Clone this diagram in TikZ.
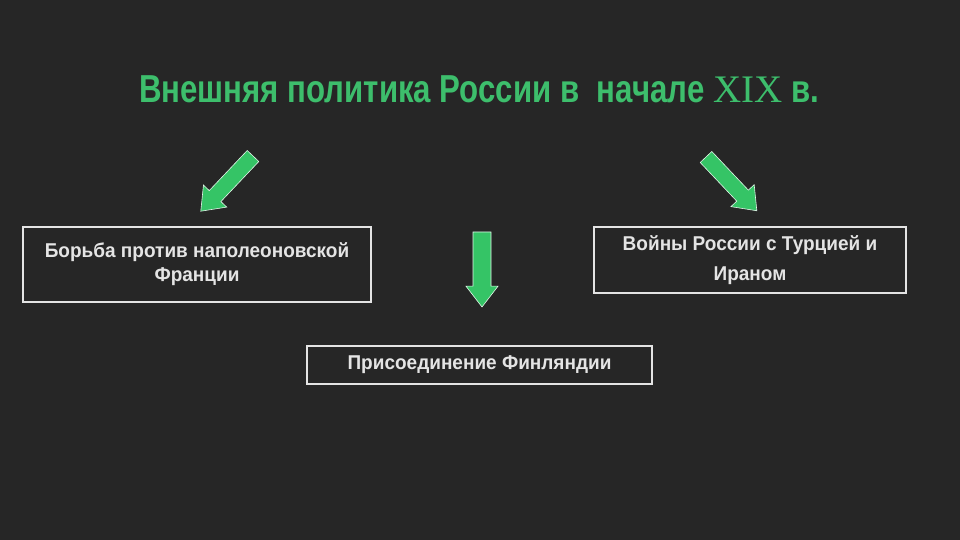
\documentclass[tikz,border=0pt]{standalone}
\usepackage{fontspec}
\newfontfamily\cond[FakeStretch=0.8]{Liberation Sans}
\newfontfamily\boxfont[FakeStretch=0.95]{Liberation Sans}
\newfontfamily\serifx{Liberation Serif}
\definecolor{bg}{HTML}{262626}
\definecolor{grn}{HTML}{3DBE6C}
\definecolor{arr}{HTML}{35C466}
\definecolor{txt}{HTML}{E4E4E4}
\tikzset{
  blk/.style={draw=txt, line width=2pt, text=txt, align=center, inner sep=0pt,
    font=\boxfont\bfseries\fontsize{20}{24}\selectfont},
  blockarrow/.style={fill=arr, draw=white!85!arr, line width=0.6pt, line join=miter}
}
\newcommand{\blockarr}[6]{% tail x, tail y, angle, length, shaft half, head half
  \begin{scope}[shift={(#1,#2)}, rotate=#3]
    \path[blockarrow] (0,-#5) -- ({#4-#6*1.3},-#5) -- ({#4-#6*1.3},-#6) -- (#4,0)
      -- ({#4-#6*1.3},#6) -- ({#4-#6*1.3},#5) -- (0,#5) -- cycle;
  \end{scope}}
\begin{document}
\begin{tikzpicture}[x=1pt,y=1pt]
\fill[bg] (0,0) rectangle (960,540);
\useasboundingbox (0,0) rectangle (960,540);
\node[text=grn, font=\cond\bfseries\fontsize{39}{46}\selectfont, anchor=base] (title) at (479,437)
  {Внешняя политика России в\ \ начале {\serifx\mdseries XIX} в.};
\node[blk, minimum width=348pt, minimum height=75pt] (left) at (197,275.5)
  {Борьба против наполеоновской\\Франции};
\node[blk, minimum width=312pt, minimum height=66pt,
  font=\boxfont\bfseries\fontsize{20}{30}\selectfont] (right) at (750,280)
  {Войны России с Турцией и\\Ираном};
\node[blk, minimum width=345pt, minimum height=38pt] (bottom) at (479.5,175)
  {Присоединение Финляндии};
\blockarr{253}{384}{226.6}{76}{8}{16}{}
\blockarr{706}{383}{-46.6}{74}{8}{16}{}
\blockarr{482}{308}{-90}{75}{9}{16}{}
\end{tikzpicture}
\end{document}
